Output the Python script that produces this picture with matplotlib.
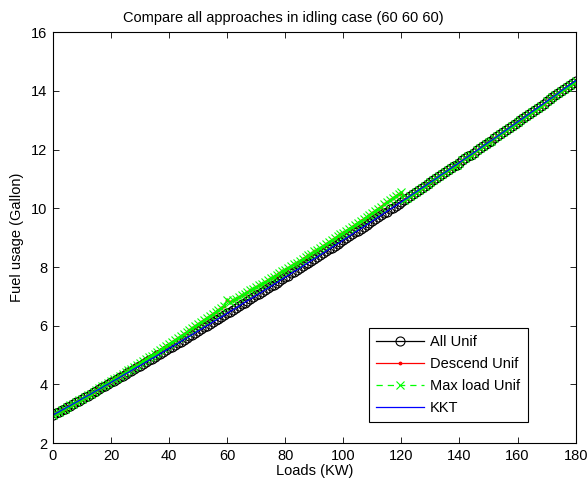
import matplotlib
matplotlib.use("Agg")
import matplotlib.pyplot as plt

plt.rcParams['font.family'] = ['Liberation Sans', 'DejaVu Sans']

loads = list(range(0, 181))

all_unif = [
    2.95, 3.01, 3.06, 3.12, 3.17, 3.23, 3.28, 3.34, 3.39, 3.45,
    3.51, 3.56, 3.62, 3.67, 3.73, 3.79, 3.84, 3.90, 3.96, 4.01,
    4.07, 4.13, 4.18, 4.24, 4.30, 4.36, 4.41, 4.47, 4.53, 4.59,
    4.64, 4.70, 4.76, 4.82, 4.88, 4.93, 4.99, 5.05, 5.11, 5.17,
    5.23, 5.29, 5.35, 5.40, 5.46, 5.52, 5.58, 5.64, 5.70, 5.76,
    5.82, 5.88, 5.94, 6.00, 6.06, 6.12, 6.18, 6.24, 6.30, 6.36,
    6.42, 6.48, 6.54, 6.60, 6.66, 6.73, 6.79, 6.85, 6.91, 6.97,
    7.03, 7.09, 7.15, 7.22, 7.28, 7.34, 7.40, 7.46, 7.53, 7.59,
    7.65, 7.71, 7.78, 7.84, 7.90, 7.96, 8.03, 8.09, 8.15, 8.22,
    8.28, 8.34, 8.41, 8.47, 8.53, 8.60, 8.66, 8.73, 8.79, 8.85,
    8.92, 8.98, 9.05, 9.11, 9.18, 9.24, 9.31, 9.37, 9.44, 9.50,
    9.57, 9.63, 9.70, 9.76, 9.83, 9.89, 9.96, 10.02, 10.09, 10.16,
    10.22, 10.29, 10.35, 10.42, 10.49, 10.55, 10.62, 10.69, 10.75, 10.82,
    10.89, 10.95, 11.02, 11.09, 11.16, 11.22, 11.29, 11.36, 11.43, 11.49,
    11.56, 11.63, 11.70, 11.77, 11.83, 11.90, 11.97, 12.04, 12.11, 12.18,
    12.25, 12.31, 12.38, 12.45, 12.52, 12.59, 12.66, 12.73, 12.80, 12.87,
    12.94, 13.01, 13.08, 13.15, 13.22, 13.29, 13.36, 13.43, 13.50, 13.57,
    13.64, 13.71, 13.78, 13.85, 13.92, 14.00, 14.07, 14.14, 14.21, 14.28,
    14.35,
]

descend_unif = [
    2.95, 3.01, 3.06, 3.12, 3.17, 3.23, 3.29, 3.34, 3.40, 3.46,
    3.51, 3.57, 3.63, 3.69, 3.75, 3.81, 3.87, 3.93, 3.99, 4.05,
    4.11, 4.17, 4.23, 4.29, 4.35, 4.41, 4.48, 4.54, 4.60, 4.66,
    4.73, 4.79, 4.85, 4.92, 4.98, 5.05, 5.11, 5.18, 5.24, 5.31,
    5.37, 5.44, 5.51, 5.57, 5.64, 5.71, 5.78, 5.84, 5.91, 5.98,
    6.05, 6.12, 6.19, 6.26, 6.33, 6.40, 6.47, 6.54, 6.61, 6.68,
    6.88, 6.81, 6.86, 6.92, 6.97, 7.03, 7.09, 7.14, 7.20, 7.26,
    7.32, 7.37, 7.43, 7.49, 7.55, 7.61, 7.67, 7.73, 7.79, 7.85,
    7.91, 7.97, 8.03, 8.09, 8.15, 8.21, 8.28, 8.34, 8.40, 8.46,
    8.53, 8.59, 8.65, 8.72, 8.78, 8.85, 8.91, 8.98, 9.04, 9.11,
    9.17, 9.24, 9.31, 9.37, 9.44, 9.51, 9.58, 9.64, 9.71, 9.78,
    9.85, 9.92, 9.99, 10.06, 10.13, 10.20, 10.27, 10.34, 10.41, 10.48,
    10.53, 10.29, 10.35, 10.42, 10.49, 10.55, 10.62, 10.69, 10.75, 10.82,
    10.89, 10.95, 11.02, 11.09, 11.16, 11.22, 11.29, 11.36, 11.43, 11.49,
    11.56, 11.63, 11.70, 11.77, 11.83, 11.90, 11.97, 12.04, 12.11, 12.18,
    12.25, 12.31, 12.38, 12.45, 12.52, 12.59, 12.66, 12.73, 12.80, 12.87,
    12.94, 13.01, 13.08, 13.15, 13.22, 13.29, 13.36, 13.43, 13.50, 13.57,
    13.64, 13.71, 13.78, 13.85, 13.92, 14.00, 14.07, 14.14, 14.21, 14.28,
    14.35,
]

max_load_unif = [
    2.95, 3.01, 3.06, 3.12, 3.17, 3.23, 3.29, 3.34, 3.40, 3.46,
    3.51, 3.57, 3.63, 3.69, 3.75, 3.81, 3.87, 3.93, 3.99, 4.05,
    4.11, 4.17, 4.23, 4.29, 4.35, 4.41, 4.48, 4.54, 4.60, 4.66,
    4.73, 4.79, 4.85, 4.92, 4.98, 5.05, 5.11, 5.18, 5.24, 5.31,
    5.37, 5.44, 5.51, 5.57, 5.64, 5.71, 5.78, 5.84, 5.91, 5.98,
    6.05, 6.12, 6.19, 6.26, 6.33, 6.40, 6.47, 6.54, 6.61, 6.68,
    6.86, 6.81, 6.86, 6.92, 6.97, 7.03, 7.09, 7.14, 7.20, 7.26,
    7.32, 7.37, 7.43, 7.49, 7.55, 7.61, 7.67, 7.73, 7.79, 7.85,
    7.91, 7.97, 8.03, 8.09, 8.15, 8.21, 8.28, 8.34, 8.40, 8.46,
    8.53, 8.59, 8.65, 8.72, 8.78, 8.85, 8.91, 8.98, 9.04, 9.11,
    9.17, 9.24, 9.31, 9.37, 9.44, 9.51, 9.58, 9.64, 9.71, 9.78,
    9.85, 9.92, 9.99, 10.06, 10.13, 10.20, 10.27, 10.34, 10.41, 10.48,
    10.55, 10.29, 10.35, 10.42, 10.49, 10.55, 10.62, 10.69, 10.75, 10.82,
    10.89, 10.95, 11.02, 11.09, 11.16, 11.22, 11.29, 11.36, 11.43, 11.49,
    11.56, 11.63, 11.70, 11.77, 11.83, 11.90, 11.97, 12.04, 12.11, 12.18,
    12.25, 12.31, 12.38, 12.45, 12.52, 12.59, 12.66, 12.73, 12.80, 12.87,
    12.94, 13.01, 13.08, 13.15, 13.22, 13.29, 13.36, 13.43, 13.50, 13.57,
    13.64, 13.71, 13.78, 13.85, 13.92, 14.00, 14.07, 14.14, 14.21, 14.28,
    14.35,
]

kkt = all_unif

series_labels = ['All Unif', 'Descend Unif', 'Max load Unif', 'KKT']
x_ticks = [0, 20, 40, 60, 80, 100, 120, 140, 160, 180]
y_ticks = [2, 4, 6, 8, 10, 12, 14, 16]

FS = 10.5

fig = plt.figure(figsize=(5.88, 4.88), dpi=100)
ax = fig.add_axes([0.090, 0.092, 0.889, 0.842])

ax.plot(loads, all_unif, color='black', linestyle='-', marker='o',
        markersize=6.5, markerfacecolor='none', markeredgewidth=0.8,
        linewidth=0.9, label=series_labels[0])
ax.plot(loads, descend_unif, color='red', linestyle='-', marker='.',
        markersize=3.5, linewidth=0.9, label=series_labels[1])
ax.plot(loads, max_load_unif, color=(0, 1, 0), linestyle=(0, (5, 4)), marker='x',
        markersize=6, markeredgewidth=0.8, linewidth=0.9, label=series_labels[2])
ax.plot(loads, kkt, color='blue', linestyle='-', linewidth=0.9,
        label=series_labels[3])

ax.set_xlim(0, 180)
ax.set_ylim(2, 16)
ax.set_xticks(x_ticks)
ax.set_yticks(y_ticks)
ax.tick_params(direction='in', top=True, right=True, labelsize=FS, length=4,
               width=0.6, pad=4)
for s in ax.spines.values():
    s.set_linewidth(0.8)

ax.set_title('Compare all approaches in idling case (60 60 60)', fontsize=FS,
             pad=7, x=0.44)
ax.set_xlabel('Loads (KW)', fontsize=FS, labelpad=1)
ax.set_ylabel('Fuel usage (Gallon)', fontsize=FS, labelpad=5)

leg = ax.legend(loc='lower right', bbox_to_anchor=(0.908, 0.051), fontsize=FS,
                numpoints=1, handlelength=3.3, fancybox=False, framealpha=1,
                edgecolor='black', borderaxespad=0, labelspacing=0.55,
                handletextpad=0.4, borderpad=0.5)
leg.get_frame().set_linewidth(0.8)

fig.savefig('out.png', dpi=100)
